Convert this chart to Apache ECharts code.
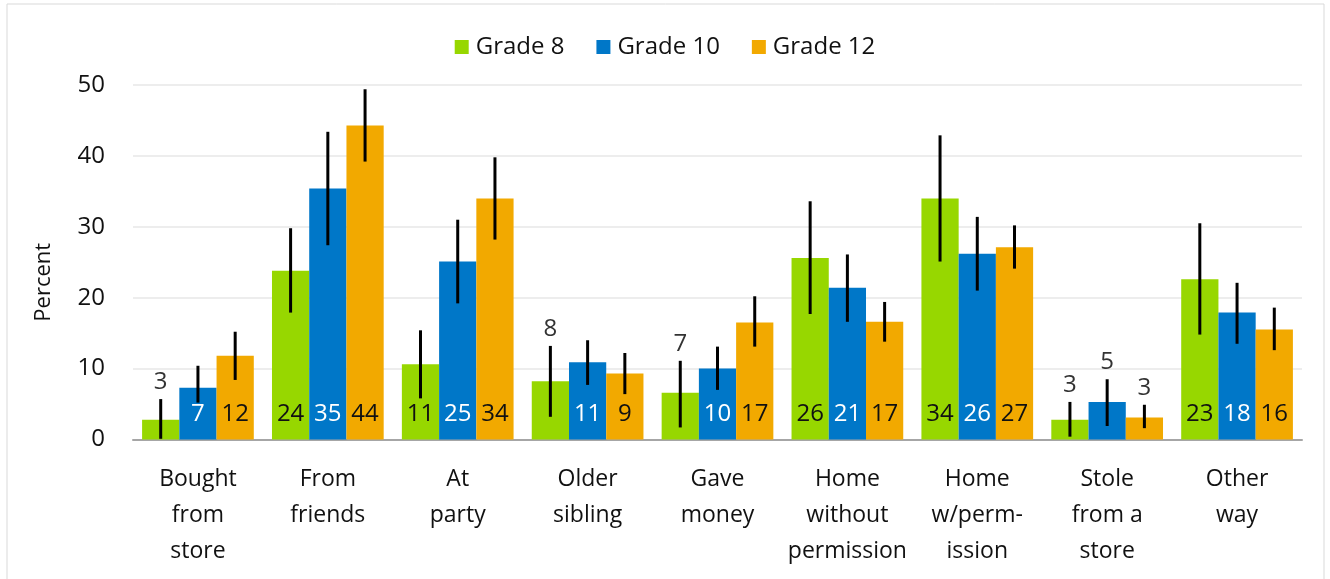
<!DOCTYPE html>
<html lang="en" style="height: 100%">

<head>
  <meta charset="UTF-8" />
  <title>Where alcohol was obtained</title>
  <script src="https://cdn.jsdelivr.net/npm/echarts@6/dist/echarts.min.js"></script>
</head>

<body style="height: 100%; margin: 0">
  <div id="main" style="width: 1330px; height: 579px"></div>
  <script type="text/javascript">
    var categories = ['Bought\nfrom\nstore', 'From\nfriends', 'At\nparty', 'Older\nsibling', 'Gave\nmoney',
      'Home\nwithout\npermission', 'Home\nw/perm-\nission', 'Stole\nfrom a\nstore', 'Other\nway'];
    var seriesNames = ['Grade 8', 'Grade 10', 'Grade 12'];
    var yTicks = [0, 10, 20, 30, 40, 50];

    // bar values
    var grade8 = [2.8, 23.8, 10.6, 8.2, 6.6, 25.6, 34.0, 2.8, 22.6];
    var grade10 = [7.3, 35.4, 25.1, 10.9, 10.0, 21.4, 26.2, 5.3, 17.9];
    var grade12 = [11.8, 44.3, 34.0, 9.3, 16.5, 16.6, 27.1, 3.1, 15.5];

    // error bar ends
    var grade8Low = [0.1, 17.9, 5.8, 3.2, 1.7, 17.7, 25.1, 0.4, 14.8];
    var grade8High = [5.7, 29.8, 15.4, 13.2, 11.1, 33.6, 42.9, 5.3, 30.5];
    var grade10Low = [5.2, 27.4, 19.2, 7.7, 7.0, 16.6, 21.0, 1.9, 13.5];
    var grade10High = [10.4, 43.4, 31.0, 14.0, 13.1, 26.1, 31.4, 8.5, 22.1];
    var grade12Low = [8.4, 39.2, 28.2, 6.4, 13.1, 13.8, 24.1, 1.6, 12.6];
    var grade12High = [15.2, 49.4, 39.8, 12.2, 20.2, 19.4, 30.2, 4.9, 18.6];

    // 1 = value label shown above the error bar instead of inside the bar
    var grade8Outside = [1, 0, 0, 1, 1, 0, 0, 1, 0];
    var grade10Outside = [0, 0, 0, 0, 0, 0, 0, 1, 0];
    var grade12Outside = [0, 0, 0, 0, 0, 0, 0, 1, 0];

    var colors = ['#97D700', '#0077C8', '#F2A900'];
    var labelColors = ['#111', '#fff', '#111'];
    var fontFamily = '"Segoe UI", "Open Sans", "Noto Sans", sans-serif';

    var values = [grade8, grade10, grade12];
    var lows = [grade8Low, grade10Low, grade12Low];
    var highs = [grade8High, grade10High, grade12High];
    var outside = [grade8Outside, grade10Outside, grade12Outside];
    var catGap = 0.14;

    var myChart = echarts.init(document.getElementById('main'));

    var series = [];
    seriesNames.forEach(function (name, s) {
      series.push({
        name: name,
        type: 'bar',
        barGap: '0%',
        barCategoryGap: catGap * 100 + '%',
        itemStyle: { color: colors[s] },
        data: values[s].map(function (v, i) {
          return {
            value: v,
            label: { show: !outside[s][i] }
          };
        }),
        label: {
          position: 'insideBottom',
          distance: 13,
          color: labelColors[s],
          fontSize: 24,
          fontFamily: fontFamily,
          formatter: function (p) { return Math.round(p.value); }
        }
      });
    });

    // error bars (and the labels of the small bars) drawn on top
    seriesNames.forEach(function (name, s) {
      series.push({
        name: name + ' error',
        type: 'custom',
        z: 10,
        silent: true,
        data: categories.map(function (c, i) {
          return [i, lows[s][i], highs[s][i], values[s][i], outside[s][i]];
        }),
        renderItem: function (params, api) {
          var band = api.size([1, 0])[0];
          var bw = band * (1 - catGap) / 3;
          var off = (s - 1) * bw;
          var lo = api.coord([api.value(0), api.value(1)]);
          var hi = api.coord([api.value(0), api.value(2)]);
          var x = lo[0] + off;
          var children = [{
            type: 'line',
            shape: { x1: x, y1: lo[1], x2: x, y2: hi[1] },
            style: { stroke: '#000', lineWidth: 3 }
          }];
          if (api.value(4)) {
            children.push({
              type: 'text',
              style: {
                x: x,
                y: hi[1] - 17,
                text: String(Math.round(api.value(3))),
                fill: '#333',
                font: '24px ' + fontFamily,
                align: 'center',
                verticalAlign: 'middle'
              }
            });
          }
          return { type: 'group', children: children };
        }
      });
    });

    var option = {
      backgroundColor: '#fff',
      animation: false,
      graphic: [{
        type: 'rect',
        shape: { x: 7, y: 4, width: 1317, height: 620 },
        style: { fill: 'none', stroke: '#d9d9d9', lineWidth: 1 },
        silent: true
      }],
      legend: {
        data: seriesNames,
        top: 30,
        left: 'center',
        itemWidth: 14,
        itemHeight: 14,
        itemGap: 32,
        icon: 'rect',
        textStyle: { fontSize: 24, fontFamily: fontFamily, color: '#111', padding: [0, 0, 0, 2] }
      },
      grid: { left: 133, right: 28, top: 85, bottom: 139.5 },
      xAxis: {
        type: 'category',
        data: categories,
        axisTick: { show: false },
        axisLine: { lineStyle: { color: '#a6a6a6', width: 2 } },
        axisLabel: {
          interval: 0,
          margin: 22,
          fontSize: 23,
          lineHeight: 36,
          color: '#111',
          fontFamily: fontFamily
        }
      },
      yAxis: {
        type: 'value',
        min: yTicks[0],
        max: yTicks[yTicks.length - 1],
        interval: 10,
        name: 'Percent',
        nameLocation: 'middle',
        nameRotate: 90,
        nameGap: 78,
        nameTextStyle: { fontSize: 22, fontFamily: fontFamily, color: '#111', padding: [0, 40, 0, 0] },
        axisLabel: { margin: 28, fontSize: 24, color: '#111', fontFamily: fontFamily },
        splitLine: { lineStyle: { color: '#ededed', width: 2 } }
      },
      series: series
    };

    myChart.setOption(option);
    window.addEventListener('resize', myChart.resize);
  </script>
</body>

</html>
